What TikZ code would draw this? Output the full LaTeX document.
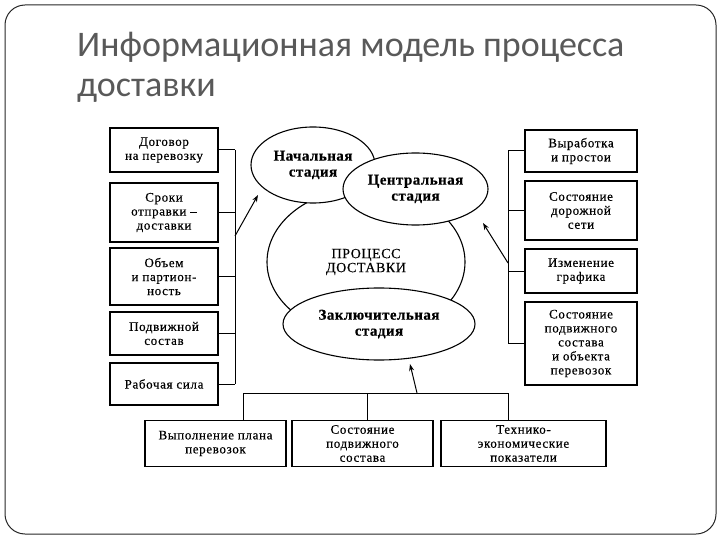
\documentclass[tikz,border=0pt]{standalone}
\usepackage{fontspec}
\setmainfont{Liberation Serif}
\newfontfamily\titlefont{Carlito}
\newfontfamily\boxfont[LetterSpace=5,FakeBold=0.4]{Liberation Serif}
\newfontfamily\procfont[LetterSpace=4,FakeBold=0.3]{Liberation Serif}
\newfontfamily\stagefont[LetterSpace=3,FakeBold=0.4]{Liberation Serif Bold}
\usetikzlibrary{shapes.geometric,arrows.meta}
\definecolor{titlegray}{HTML}{595959}
\begin{document}
\begin{tikzpicture}[x=1bp,y=-1bp,
  box/.style={draw=black,line width=1.3bp,fill=white,align=center,inner sep=1bp,
    font=\boxfont\fontsize{13bp}{14bp}\selectfont},
  stage/.style={draw=black,line width=1.1bp,fill=white,ellipse,inner sep=0pt,align=center,
    font=\stagefont\fontsize{15bp}{16bp}\selectfont},
  wire/.style={draw=black,line width=1bp},
  arr/.style={draw=black,line width=1bp,-{Stealth[length=7bp,width=5bp]}}
]
\useasboundingbox (0,0) rectangle (720,540);
\draw[rounded corners=20bp,line width=1bp,draw=black!85] (5,5) rectangle (716,534);
\node[anchor=base west,inner sep=0pt,text=titlegray,font=\titlefont\fontsize{36bp}{40bp}\selectfont] (t1) at (77,57) {Информационная модель процесса};
\node[anchor=base west,inner sep=0pt,text=titlegray,font=\titlefont\fontsize{36bp}{40bp}\selectfont] (t2) at (77,97) {доставки};

% left boxes
\node[box,minimum width=108bp,minimum height=44bp] (l1) at (164,150) {Договор\\на перевозку};
\node[box,minimum width=108bp,minimum height=59bp] (l2) at (164,212.5) {Сроки\\отправки –\\доставки};
\node[box,minimum width=108bp,minimum height=57bp] (l3) at (164,276.5) {Объем\\и партион-\\ность};
\node[box,minimum width=108bp,minimum height=43bp] (l4) at (164,333.5) {Подвижной\\состав};
\node[box,minimum width=108bp,minimum height=42bp] (l5) at (164,384) {Рабочая сила};
\coordinate (lb1) at (235,150);
\coordinate (lb5) at (235,384);
\coordinate (la) at (235,236);
\draw[wire] (lb1) -- (lb5);
\foreach \n in {l1,l2,l3,l4,l5} \draw[wire] (\n.east) -- (\n.east -| lb1);

% right boxes
\node[box,minimum width=112bp,minimum height=42bp] (r1) at (581,151) {Выработка\\и простои};
\node[box,minimum width=112bp,minimum height=59bp] (r2) at (581,210.5) {Состояние\\дорожной\\сети};
\node[box,minimum width=112bp,minimum height=44bp] (r3) at (581,271) {Изменение\\графика};
\node[box,minimum width=112bp,minimum height=83bp] (r4) at (581,343.5) {Состояние\\подвижного\\состава\\и объекта\\перевозок};
\coordinate (rb1) at (508,151);
\coordinate (rb4) at (508,343.5);
\coordinate (ra) at (508,263);
\draw[wire] (rb1) -- (rb4);
\foreach \n in {r1,r2,r3,r4} \draw[wire] (\n.west) -- (\n.west -| rb1);

% bottom boxes
\node[box,minimum width=141bp,minimum height=46bp] (d1) at (215.5,443.5) {Выполнение плана\\перевозок};
\node[box,minimum width=141bp,minimum height=46bp] (d2) at (362.5,443.5) {Состояние\\подвижного\\состава};
\node[box,minimum width=165bp,minimum height=46bp] (d3) at (523.5,443.5) {Технико-\\экономические\\показатели};
\coordinate (bb1) at (243,393);
\coordinate (bb2) at (367,393);
\coordinate (bb3) at (508,393);
\coordinate (ba) at (417,393);
\draw[wire] (bb1) -- (bb3);
\draw[wire] (bb1) -- (bb1 |- d1.north);
\draw[wire] (bb2) -- (bb2 |- d2.north);
\draw[wire] (bb3) -- (bb3 |- d3.north);

% center
\node[draw=black,line width=1.1bp,ellipse,minimum width=198bp,minimum height=148bp,inner sep=0pt,align=center,
  font=\procfont\fontsize{14bp}{14bp}\selectfont] (proc) at (366,262) {ПРОЦЕСС\\ДОСТАВКИ};
\node[stage,minimum width=124bp,minimum height=76bp] (s1) at (313,165) {Начальная\\стадия};
\node[stage,minimum width=145bp,minimum height=72bp] (s2) at (415.5,189) {Центральная\\стадия};
\node[stage,minimum width=192bp,minimum height=72bp] (s3) at (379,324) {Заключительная\\стадия};

\coordinate (sa1) at (258,195);
\coordinate (sa2) at (483,223);
\coordinate (sa3) at (410,364);
\draw[arr] (la) -- (sa1);
\draw[arr] (ra) -- (sa2);
\draw[arr] (ba) -- (sa3);
\end{tikzpicture}
\end{document}
